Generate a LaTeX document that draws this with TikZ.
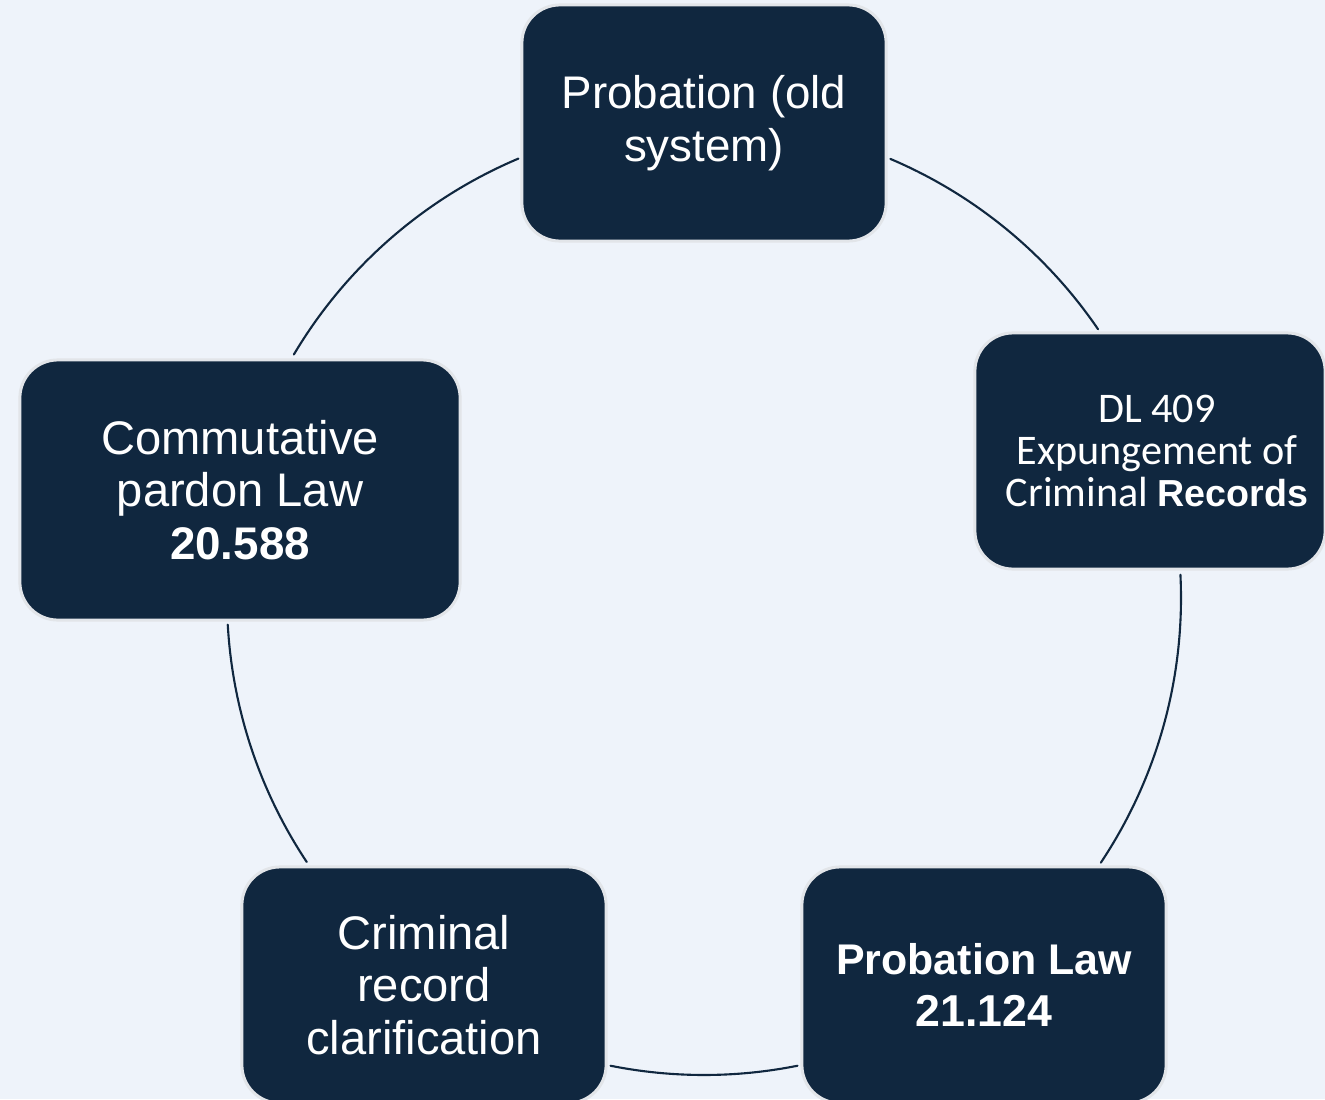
\documentclass[tikz,border=0pt]{standalone}
\usepackage{fontspec}
\setmainfont{Liberation Sans}
\newfontfamily\calibfont{Carlito}
\definecolor{nen}{HTML}{EEF3FA}
\definecolor{hopnavy}{HTML}{10273F}
\definecolor{vien}{HTML}{E2E5E9}
\begin{document}
\begin{tikzpicture}[
			% styles for the boxes and the ring
			hop/.style={rectangle, rounded corners=0.38cm, fill=hopnavy, draw=vien, line width=0.85pt,
				text=white, align=center, inner sep=0pt}, % dark rounded box
			vong/.style={draw=hopnavy, line width=0.6pt}, % arcs of the ring
			chu/.style={font=\fontsize{13}{15}\selectfont}, % normal label text
			chulon/.style={font=\fontsize{13.4}{15}\selectfont}, % slightly larger text
			x=0.01cm, y=0.01cm, line join=round, line cap=round]
			% background and page size
			\fill[nen] (0,0) rectangle (1325,1099);
			\useasboundingbox (0,0) rectangle (1325,1099);

			% centre of the ring
			\coordinate (O) at (704,501);

			% arcs between the boxes (start and end angles)
			\foreach \a/\b in {112.9/149.3, 67/34.3, 2.8/-33.7, -78.7/-101.3, 213.6/183.2}
				\draw[vong] (O) ++(\a:477) arc[start angle=\a, end angle=\b, radius=477];

			% the five boxes
			\node[hop, chu, minimum width=3.64cm, minimum height=2.36cm] (P) at (704,976)
				{Probation (old\\system)};
			\node[hop, minimum width=3.50cm, minimum height=2.36cm] (DL) at (1150,648)
				{\hspace*{0.14cm}\calibfont\fontsize{12}{13.3}\selectfont DL 409\\
				\hspace*{0.14cm}\calibfont\fontsize{12}{13.3}\selectfont Expungement of\\
				\hspace*{0.14cm}\calibfont\fontsize{12}{13.3}\selectfont Criminal {\normalfont\bfseries\fontsize{10.7}{13.3}\selectfont Records}};
			\node[hop, chulon, minimum width=4.40cm, minimum height=2.60cm] (C) at (240,609)
				{Commutative\\pardon Law\\{\fontsize{13}{15}\selectfont\bfseries 20.588}};
			\node[hop, chulon, minimum width=3.64cm, minimum height=2.36cm] (R) at (424,114)
				{Criminal\\record\\clarification};
			\node[hop, minimum width=3.64cm, minimum height=2.36cm, font=\bfseries\fontsize{12.2}{15}\selectfont] (L) at (984,114)
				{Probation Law\\{\fontsize{12.7}{15}\selectfont 21.124}};

		\end{tikzpicture}
\end{document}
